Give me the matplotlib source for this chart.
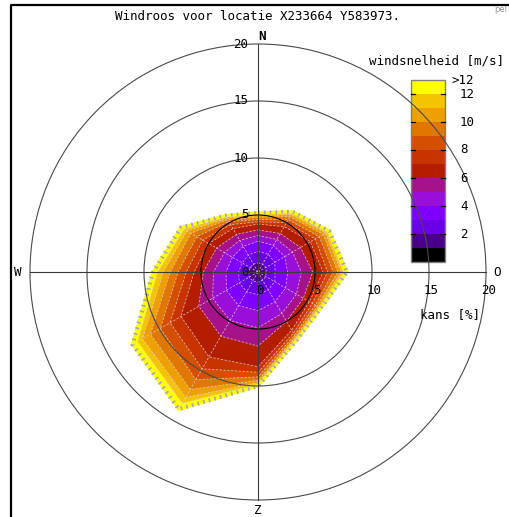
import numpy as np
import matplotlib
matplotlib.use("Agg")
import matplotlib.pyplot as plt
from matplotlib.patches import Polygon, Circle, Rectangle

# ---- data ----
title = "Windroos voor locatie X233664 Y583973."
legend_title = "windsnelheid [m/s]"
directions = [0, 30, 60, 90, 120, 150, 180, 210, 240, 270, 300, 330]
ring_ticks = [5, 10, 15, 20]
legend_ticks = [2, 4, 6, 8, 10, 12]

# one colour per speed class: 0-1, 1-2, ... 11-12, >12 m/s
class_colors = ["#000000", "#4a0086", "#6a00e6", "#8000ff", "#9810d8",
                "#a5128a", "#b41e00", "#c83400", "#d45000", "#e07800",
                "#eda000", "#f5c400", "#ffff00"]

# cumulative frequency [%] per direction, up to each speed class
cum_000 = [0.1, 0.8, 1.8, 2.7, 3.2, 3.7, 4.2, 4.4, 4.6, 4.8, 4.95, 5.05, 5.2]
cum_030 = [0.1, 0.8, 1.8, 2.7, 3.3, 3.9, 4.6, 5.0, 5.3, 5.6, 5.8, 5.95, 6.1]
cum_060 = [0.1, 0.8, 1.7, 2.7, 3.5, 4.3, 5.3, 5.8, 6.2, 6.6, 6.85, 7.0, 7.2]
cum_090 = [0.1, 0.7, 1.5, 2.6, 3.8, 4.8, 5.7, 6.1, 6.6, 7.0, 7.3, 7.5, 7.8]
cum_120 = [0.1, 0.8, 1.7, 2.8, 3.9, 4.6, 5.2, 5.5, 5.8, 6.0, 6.15, 6.25, 6.35]
cum_150 = [0.1, 0.8, 1.8, 3.0, 4.2, 5.0, 5.9, 6.2, 6.4, 6.55, 6.65, 6.75, 6.85]
cum_180 = [0.1, 0.9, 2.0, 3.4, 4.9, 6.5, 8.3, 8.8, 9.2, 9.5, 9.7, 9.85, 10.0]
cum_210 = [0.1, 0.9, 2.0, 3.4, 4.9, 6.5, 8.6, 9.8, 10.9, 11.9, 12.7, 13.3, 13.9]
cum_240 = [0.1, 0.9, 1.9, 3.2, 4.6, 6.0, 7.8, 8.9, 9.9, 10.9, 11.7, 12.2, 12.7]
cum_270 = [0.1, 0.8, 1.7, 2.8, 3.9, 4.8, 5.6, 6.3, 7.0, 7.7, 8.3, 8.8, 9.2]
cum_300 = [0.1, 0.8, 1.6, 2.6, 3.4, 4.2, 5.0, 5.6, 6.2, 6.8, 7.2, 7.5, 7.8]
cum_330 = [0.1, 0.8, 1.7, 2.6, 3.2, 3.8, 4.4, 4.8, 5.1, 5.3, 5.45, 5.6, 5.7]

cum_pct = np.array([cum_000, cum_030, cum_060, cum_090, cum_120, cum_150,
                    cum_180, cum_210, cum_240, cum_270, cum_300, cum_330])

# ---- layout: pixel geometry of the reference ----
W, H = 510, 517
CX, CY = 258, 272      # centre of the rose in pixels
S = 11.4               # pixels per percent


def px(x, y):
    """pixel position -> data coordinates"""
    return (x - CX) / S, (CY - y) / S


mono = dict(family="DejaVu Sans Mono", fontsize=9, color="black")

fig = plt.figure(figsize=(W / 100, H / 100), dpi=100, facecolor="white")
ax = fig.add_axes([0, 0, 1, 1])
ax.set_xlim(px(0, 0)[0], px(W, 0)[0])
ax.set_ylim(px(0, H)[1], px(0, 0)[1])
ax.axis("off")

theta = np.radians(directions)
sin_t, cos_t = np.sin(theta), np.cos(theta)

# --- stacked rose bands, widest first ---
n_cls = cum_pct.shape[1]
for k in reversed(range(n_cls)):
    r = cum_pct[:, k]
    xy = np.column_stack([r * sin_t, r * cos_t])
    ax.add_patch(Polygon(xy, closed=True, fc=class_colors[k], ec="none", zorder=2))

# hatched fringe around the outer band
r_out = cum_pct[:, -1]
xy_out = np.column_stack([r_out * sin_t, r_out * cos_t])
ax.add_patch(Polygon(xy_out, closed=True, fill=False, ec="#ffff00", lw=2.2, zorder=2.5))
ax.add_patch(Polygon(xy_out, closed=True, fill=False, ec="#a8a8a8", lw=3.0,
                     linestyle=(0, (0.4, 1.0)), zorder=2.6))

# light dashed web: ring edges and spokes
web = dict(color="#e8d0e0", lw=0.55, linestyle=(0, (3, 2)), alpha=0.85)
for k in range(n_cls - 1):
    r = cum_pct[:, k]
    xy = np.column_stack([r * sin_t, r * cos_t])
    ax.add_patch(Polygon(xy, closed=True, fill=False, ec=web["color"], lw=web["lw"],
                         linestyle=web["linestyle"], alpha=web["alpha"], zorder=3))
for i in range(len(directions)):
    ax.plot([0, r_out[i] * sin_t[i]], [0, r_out[i] * cos_t[i]], zorder=3, **web)

# --- legend (colour boxes) ---
lx0, lx1, ly0, box_h = 411, 445, 262, 14
for i, c in enumerate(class_colors):
    x0, y0 = px(lx0, ly0 - box_h * i)
    ax.add_patch(Rectangle((x0, y0), (lx1 - lx0) / S, box_h / S, fc=c, ec="none", zorder=4))
bx, by = px(lx0, ly0)
ax.add_patch(Rectangle((bx, by), (lx1 - lx0) / S, box_h * len(class_colors) / S,
                       fill=False, ec="#808080", lw=1.0, zorder=4.5))
for t in legend_ticks:
    yy = px(0, ly0 - box_h * t)[1]
    for xa, xb in [(lx0, lx0 + 4), (lx1 - 4, lx1)]:
        ax.plot([px(xa, 0)[0], px(xb, 0)[0]], [yy, yy], color="black", lw=0.9, zorder=4.6)
    ax.text(px(460, 0)[0], yy, str(t), ha="left", va="center", zorder=6, **mono)
ax.text(px(452, 0)[0], px(0, ly0 - box_h * len(class_colors))[1], ">12",
        ha="left", va="center", zorder=6, **mono)
ax.text(*px(437, 61), legend_title, ha="center", va="center", zorder=6, **mono)

# --- circles and axis cross ---
for r in ring_ticks:
    ax.add_patch(Circle((0, 0), r, fill=False, ec="black" if r == 5 else "#4a4a4a",
                        lw=0.8, zorder=5))
ax.plot([-20, 20], [0, 0], color="#3a3a3a", lw=0.8, zorder=5)
ax.plot([0, 0], [-20, 20], color="#3a3a3a", lw=0.8, zorder=5)

# tick labels on the north axis and the east axis
for r in [0] + ring_ticks:
    ax.text(-0.85, r, str(r), ha="right", va="center", zorder=6, **mono)
    ax.text(r + 0.2, -1.6, str(r), ha="center", va="center", zorder=6, **mono)
ax.text(*px(450, 315), "kans [%]", ha="center", va="center", zorder=6, **mono)

# compass letters (Dutch: N, O, Z, W)
ax.text(*px(262, 37), "N", ha="center", va="center", fontweight="bold", zorder=6, **mono)
ax.text(*px(497, 272), "O", ha="center", va="center", zorder=6, **mono)
ax.text(*px(258, 510), "Z", ha="center", va="center", zorder=6, **mono)
ax.text(*px(18, 272), "W", ha="center", va="center", zorder=6, **mono)

# title, frame and corner mark
ax.text(*px(258, 17), title, ha="center", va="center", zorder=6, **mono)
ax.text(*px(494, 10), "pel", ha="left", va="center", family="DejaVu Sans",
        fontsize=6, color="#9a9a9a", zorder=6)
fx0, fy0 = px(11, 5)
fx1, fy1 = px(W + 10, H + 10)
ax.plot([fx0, fx0, fx1], [fy1, fy0, fy0], color="black", lw=1.6, clip_on=False, zorder=7)

fig.savefig("out.png", dpi=100, facecolor="white")
plt.close(fig)
